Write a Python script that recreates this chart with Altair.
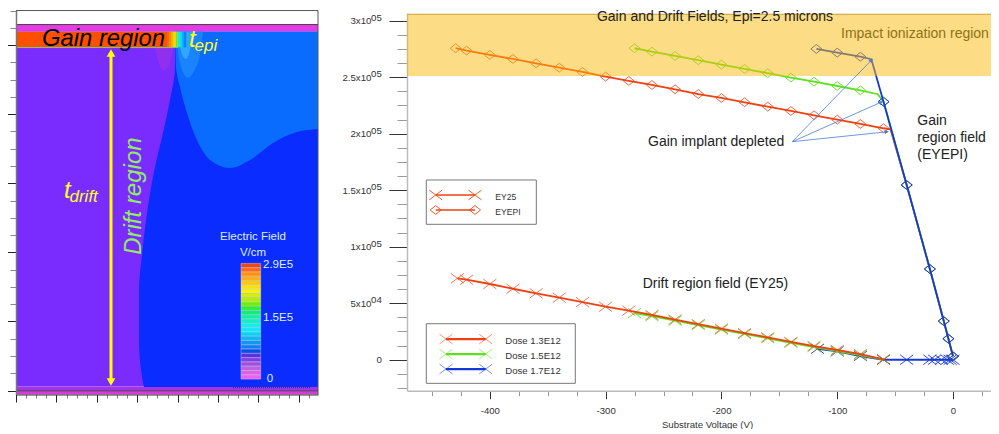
import math
import altair as alt
import pandas as pd

FONT = "Liberation Sans"
W, H = 983, 421

# ---------- right chart data: substrate voltage (V) vs field (V/cm) ----------
ey25_13_v = [-428, -420, -400, -380, -360, -340, -320, -300, -280, -260, -240, -220, -200, -180, -160, -140, -120, -100, -80, -60]
ey25_13_e = [72000, 70800, 67000, 62800, 58800, 54900, 51000, 46900, 43400, 39600, 35500, 31500, 27500, 23500, 19800, 15700, 12100, 8600, 5000, 400]
ey25_15_v = [-275, -260, -240, -220, -200, -180, -160, -140, -120, -100, -80, -60]
ey25_15_e = [41300, 38500, 34500, 30700, 26700, 22800, 19000, 15000, 11200, 7600, 4000, 200]
ey25_17_v = [-117, -100, -80, -60, -40, -20, -16, -10, -5, -2.5, 0]
ey25_17_e = [9700, 7400, 3300, 0, 0, 0, 0, 0, 0, 0, 0]

epi_13_v = [-429.5, -420, -400, -380, -360, -340, -320, -300, -280, -260, -240, -220, -200, -180, -160, -140, -120, -100, -80, -60, -54, -40, -20, -8, -4, 0]
epi_13_e = [275600, 273500, 269700, 266100, 262300, 258400, 254600, 250500, 246700, 243100, 239300, 235100, 231600, 227800, 223900, 220100, 216300, 212400, 208600, 204800, 203900, 154600, 80300, 34200, 18600, 3000]
epi_15_v = [-275, -260, -240, -220, -200, -180, -160, -140, -120, -100, -80, -65, -60, -40, -20, -8, -4, 0]
epi_15_e = [275600, 272600, 268800, 265000, 261100, 257300, 253500, 249600, 246000, 242200, 238400, 234900, 228300, 154600, 80300, 34200, 18600, 3000]
epi_17_v = [-118, -100, -80, -70.5, -60, -40, -20, -8, -4, 0]
epi_17_e = [275000, 271700, 268100, 265900, 228300, 154600, 80300, 34200, 18600, 3000]
# the bend without a marker
epi_15_no_marker = [-65]
epi_13_no_marker = [-54]
epi_17_no_marker = [-70.5]

y_ticks = [-25000 + 12500 * i for i in range(27)]
x_ticks = [-450 + 25 * i for i in range(20)]
y_labels = {0: "0", 50000: "5x10", 100000: "1x10", 150000: "1.5x10", 200000: "2x10", 250000: "2.5x10", 300000: "3x10"}
y_exps = {50000: "04", 100000: "05", 150000: "05", 200000: "05", 250000: "05", 300000: "05"}

RED, GREEN, BLUE = "#EE4010", "#5FE01E", "#1438D8"

# ---------- left chart data: field map regions (lateral position, depth) ----------
purple_edge_x = [157.4, 157.4, 152.5, 145.5, 137.6, 129.7, 124.8, 121.8, 121.8, 124.8, 126.7]
purple_edge_d = [2, 22.3, 55.7, 89.2, 123.6, 170.2, 211.8, 248.2, 298.9, 336.4, 346.5]
midblue_x = [157.9, 158.4, 162.4, 169.3, 179.2, 192.1, 211.9, 231.7, 254.5, 278.2, 299]
midblue_d = [2, 22.3, 42.6, 68.9, 96.3, 116.5, 124.6, 116.5, 99.3, 88.1, 85.1]
blob1_x = [137.6, 140.6, 145.5, 150.5, 155.4, 157.4]
blob1_d = [2.3, 15.2, 25.3, 23.3, 5, 2.3]
blob2_x = [158.5, 162, 170, 177, 182, 185]
blob2_d = [-13, 17, 33, 25, 10, -13]
blob3_x = [160, 163, 168, 172, 175]
blob3_d = [-13, 5, 14, 6, -13]
rainbow_edges = [149.5, 151.5, 153.5, 155.5, 157.5, 159, 160.5, 162.5, 164.5, 166.5, 168.5]
rainbow_colors = ["#FF6A00", "#FF8C00", "#FFB000", "#FFD800", "#D8F000", "#70F060", "#20F0C0", "#10D8F8", "#10A8FF", "#0880FF"]
colorbar_colors = ["#F04810", "#FF6A10", "#FF9010", "#FFB010", "#FFC800", "#FFE000", "#F5F500", "#D8F000", "#B0F000",
                   "#70F000", "#30F030", "#10F070", "#10F0A0", "#10F0C0", "#10F0E8", "#10E8F8", "#10D0F0", "#10B8F0",
                   "#1098F0", "#1080F0", "#0850E8", "#6030E0", "#8040E0", "#A050E0", "#C060E0", "#E060E0", "#F060F0"]

# ---------- scales ----------
LXS = alt.Scale(domain=[0, 299], range=[8, 310], nice=False)
LYS = alt.Scale(domain=[-35, 354], range=[2.5, 386.5], nice=False)
RXS = alt.Scale(domain=[-471.5, 39.7], range=[399, 991], nice=False)
RYS = alt.Scale(domain=[-27400, 305900], range=[382.7, 6], nice=False)

def lx(px): return (px - 16) / 1.01
def ly(py): return (py - 45) / 0.987
def rx(px): return (px - 953) / 1.158
def ry(py): return (359.7 - py) * 885

def LX(f="x", **k): return alt.X(f + ":Q", scale=LXS, axis=k.pop("axis", None), **k)
def LY(f="y", **k): return alt.Y(f + ":Q", scale=LYS, axis=k.pop("axis", None), **k)
def RX(f="x", **k): return alt.X(f + ":Q", scale=RXS, axis=k.pop("axis", None), **k)
def RY(f="y", **k): return alt.Y(f + ":Q", scale=RYS, axis=k.pop("axis", None), **k)
COL = alt.Color("c:N", scale=None, legend=None)

def text_layer(xs, ys, t, px, py, size, color, italic=False, align="left", angle=None, baseline="alphabetic", weight="normal"):
    kw = dict(font=FONT, fontSize=size, color=color, align=align, baseline=baseline, fontWeight=weight)
    if italic:
        kw["fontStyle"] = "italic"
    if angle is not None:
        kw["angle"] = angle
    if xs is LXS:
        d = pd.DataFrame({"x": [lx(px)], "y": [ly(py)], "t": [t]})
        return alt.Chart(d).mark_text(**kw).encode(x=LX(), y=LY(), text="t:N")
    d = pd.DataFrame({"x": [rx(px)], "y": [ry(py)], "t": [t]})
    return alt.Chart(d).mark_text(**kw).encode(x=RX(), y=RY(), text="t:N")

def ltext(*a, **k): return text_layer(LXS, LYS, *a, **k)
def rtext(*a, **k): return text_layer(RXS, RYS, *a, **k)

layers = []

# ---------- LEFT PANEL ----------
rects = [
    (0, 299, ly(24.5), ly(31.7), "#E63AE6"),
    (0, 299, ly(31.7), ly(47.3), "#0A6CFF"),
    (0, 150.5, ly(31.7), ly(47.3), "#FF5000"),
    (0, 299, ly(47.3), ly(386.3), "#7A2CFF"),
    (0, 299, ly(386.3), ly(390.7), "#A035E8"),
    (0, 299, ly(390.7), ly(394.5), "#D93AE0"),
]
lrect = pd.DataFrame(rects, columns=["x", "x2", "y", "y2", "c"])
left_x_axis = alt.Axis(
    orient="bottom", offset=-34.5, values=list(range(0, 300, 10)), labels=False, title=None, grid=False,
    domainColor="#333", domainWidth=1,
    tickSize={"condition": {"test": "datum.value % 40 === 0", "value": 7.5}, "value": 3.5},
    tickColor={"condition": {"test": "datum.value % 40 === 0", "value": "#222"}, "value": "#777"},
    zindex=1,
)
left_y_axis = alt.Axis(
    orient="left", offset=-8, values=[-35 + 17.5 * i for i in range(23)], labels=False, title=None, grid=False,
    domainColor="#777", domainWidth=1.5,
    tickSize={"condition": {"test": "datum.value % 70 === 0", "value": 11}, "value": 6},
    tickColor={"condition": {"test": "datum.value % 70 === 0", "value": "#222"}, "value": "#888"},
    zindex=1,
)
layers.append(alt.Chart(lrect).mark_rect().encode(
    x=LX(axis=left_x_axis), x2="x2:Q", y=LY(axis=left_y_axis), y2="y2:Q", color=COL))

deep = pd.DataFrame({"x": purple_edge_x, "x2": [299] * len(purple_edge_x), "y": purple_edge_d})
layers.append(alt.Chart(deep).mark_area(orient="horizontal", interpolate="monotone", color="#0A2CFF").encode(
    x=LX(), x2="x2:Q", y=LY()))

def larea(xs, ds, top, color):
    d = pd.DataFrame({"x": xs, "y": ds, "y2": [top] * len(xs)})
    return alt.Chart(d).mark_area(interpolate="monotone", color=color).encode(x=LX(), y=LY(), y2="y2:Q")

layers.append(larea(midblue_x, midblue_d, ly(31.7), "#0A6CFF"))
layers.append(larea(blob1_x, blob1_d, 2.3, "#9030EE"))
layers.append(larea(blob2_x, blob2_d, ly(31.7), "#1A84FF"))
layers.append(larea(blob3_x, blob3_d, ly(31.7), "#30A8FF"))

rb = pd.DataFrame({"x": rainbow_edges[:-1], "x2": rainbow_edges[1:], "y": [ly(31.7)] * 10, "y2": [ly(47.3)] * 10, "c": rainbow_colors})
layers.append(alt.Chart(rb).mark_rect().encode(x=LX(), x2="x2:Q", y=LY(), y2="y2:Q", color=COL))

def lrule(px0, py0, px1, py1, color, width, **k):
    d = pd.DataFrame({"x": [lx(px0)], "x2": [lx(px1)], "y": [ly(py0)], "y2": [ly(py1)]})
    return alt.Chart(d).mark_rule(color=color, strokeWidth=width, **k).encode(x=LX(), x2="x2:Q", y=LY(), y2="y2:Q")

layers.append(lrule(16, 47.5, 178, 47.5, "#7FC87F", 1))
layers.append(lrule(16, 24.5, 318, 24.5, "#444444", 1))
layers.append(lrule(16, 10.5, 318, 10.5, "#555555", 1))
layers.append(lrule(318, 10.5, 318, 394.5, "#555555", 1))
layers.append(lrule(16, 390.7, 318, 390.7, "#444444", 1))
layers.append(lrule(233, 387.5, 310, 387.5, "#333366", 1, strokeDash=[1, 1]))

# double arrow
layers.append(lrule(111, 52, 111, 383, "#FFFF00", 3))
arrow_tips = pd.DataFrame({"x": [lx(111), lx(111)], "y": [ly(53), ly(382)], "s": ["triangle-up", "triangle-down"]})
layers.append(alt.Chart(arrow_tips).mark_point(filled=True, size=75, opacity=1, color="#FFFF00").encode(
    x=LX(), y=LY(), shape=alt.Shape("s:N", scale=None, legend=None)))

layers.append(ltext("Gain region", 42, 46, 23.8, "#000000", italic=True))
layers.append(ltext("t", 189, 47, 24, "#FFFF20", italic=True))
layers.append(ltext("epi", 194.5, 51, 17, "#FFFF20", italic=True))
layers.append(ltext("t", 64, 198, 24, "#FFFF20", italic=True))
layers.append(ltext("drift", 69.5, 202, 17, "#FFFF20", italic=True))
layers.append(ltext("Drift region", 141, 254.7, 24, "#90EE60", italic=True, angle=270))

layers.append(ltext("Electric Field", 253, 240, 11.5, "#DDEEFF", align="center"))
layers.append(ltext("V/cm", 253, 256, 11.5, "#DDEEFF", align="center"))
n = len(colorbar_colors)
cb_top, cb_bot = 263.3, 379.0
cb = pd.DataFrame({
    "x": [lx(241)] * n, "x2": [lx(260.7)] * n,
    "y": [ly(cb_top + (cb_bot - cb_top) * i / n) for i in range(n)],
    "y2": [ly(cb_top + (cb_bot - cb_top) * (i + 1) / n) for i in range(n)],
    "c": colorbar_colors})
layers.append(alt.Chart(cb).mark_rect(stroke="#DDDDEE", strokeWidth=0.4).encode(
    x=LX(), x2="x2:Q", y=LY(), y2="y2:Q", color=COL))
layers.append(ltext("2.9E5", 263, 268, 11.5, "#DDEEFF"))
layers.append(ltext("1.5E5", 263, 321, 11.5, "#DDEEFF"))
layers.append(ltext("0", 270, 382, 11.5, "#DDEEFF", align="center"))

# ---------- RIGHT PANEL ----------
X_PATH = "M-1,-0.75L1,0.75M-1,0.75L1,-0.75"
D_PATH = "M-1,0L0,-0.8L1,0L0,0.8Z"

label_expr = "{" + ",".join(f"'{k}':'{v}'" for k, v in y_labels.items()) + "}[datum.value] || ''"
right_y_axis = alt.Axis(
    orient="left", offset=-399, values=y_ticks, title=None, grid=False, labelOverlap=False,
    labelExpr=label_expr, labelFont=FONT, labelFontSize=9.7, labelColor="#333333",
    labelPadding={"condition": {"test": "datum.value === 0", "value": 7.7}, "value": 18},
    domainColor="#BBBBBB", domainWidth=1.5,
    tickSize={"condition": {"test": "datum.value % 50000 === 0", "value": 18}, "value": 10},
    tickColor={"condition": {"test": "datum.value % 50000 === 0", "value": "#333333"}, "value": "#999999"},
)
right_x_axis = alt.Axis(
    orient="bottom", offset=-38.3, values=x_ticks, grid=False, labelOverlap=False, labelFlush=False,
    labelExpr="datum.value % 100 === 0 ? datum.value : ''", labelFont=FONT, labelFontSize=9.6, labelColor="#333333",
    labelPadding=7,
    title="Substrate Voltage (V)", titleFont=FONT, titleFontSize=9.6, titleFontWeight="normal", titleColor="#333333",
    titleX=699, titleY=36.3, titleBaseline="alphabetic", titleAlign="center",
    domainColor="#BBBBBB", domainWidth=1.5,
    tickSize={"condition": {"test": "datum.value % 100 === 0", "value": 8}, "value": 5},
    tickColor={"condition": {"test": "datum.value % 100 === 0", "value": "#333333"}, "value": "#999999"},
)

def series(v, e, color, path, size, marker_opacity, skip=()):
    d = pd.DataFrame({"x": v, "y": e})
    line = alt.Chart(d).mark_line(color=color, strokeWidth=1.8).encode(
        x=alt.X("x:Q", scale=RXS, axis=None, sort=None), y=RY())
    dm = d[~d["x"].isin(list(skip))]
    pts = alt.Chart(dm).mark_point(shape=path, filled=False, size=size, color=color, strokeWidth=1, opacity=marker_opacity).encode(
        x=RX(), y=RY())
    return [line, pts]

# axes layer
axis_d = pd.DataFrame({"x": [0], "y": [0]})
layers.append(alt.Chart(axis_d).mark_point(opacity=0).encode(x=RX(axis=right_x_axis), y=RY(axis=right_y_axis)))

layers += series(ey25_17_v, ey25_17_e, BLUE, X_PATH, 169, 0.9)
layers += series(ey25_15_v, ey25_15_e, GREEN, X_PATH, 169, 0.85)
layers += series(ey25_13_v, ey25_13_e, RED, X_PATH, 169, 0.7)
layers += series(epi_13_v, epi_13_e, RED, D_PATH, 121, 0.8, skip=epi_13_no_marker)
layers += series(epi_15_v, epi_15_e, GREEN, D_PATH, 121, 0.9, skip=epi_15_no_marker)
layers += series(epi_17_v, epi_17_e, BLUE, D_PATH, 121, 1, skip=epi_17_no_marker)

# exponents of the tick labels
exp_d = pd.DataFrame({"x": [rx(371)] * len(y_exps), "y": list(y_exps.keys()), "t": list(y_exps.values())})
layers.append(alt.Chart(exp_d).mark_text(font=FONT, fontSize=9.7, color="#333333", align="left", baseline="middle", dy=-3).encode(
    x=RX(), y=RY(), text="t:N"))

# impact ionization band
band = pd.DataFrame({"x": [rx(407)], "x2": [rx(999)], "y": [ry(14)], "y2": [ry(76)]})
layers.append(alt.Chart(band).mark_rect(color="#F9B90C", opacity=0.5).encode(x=RX(), x2="x2:Q", y=RY(), y2="y2:Q"))

def rrule(px0, py0, px1, py1, color, width):
    d = pd.DataFrame({"x": [rx(px0)], "x2": [rx(px1)], "y": [ry(py0)], "y2": [ry(py1)]})
    return alt.Chart(d).mark_rule(color=color, strokeWidth=width).encode(x=RX(), x2="x2:Q", y=RY(), y2="y2:Q")

layers.append(rrule(407, 14.3, 999, 14.3, "#C9A23A", 1))

# annotation arrows
origin = (792.3, 141.7)
targets = [(872.3, 59.3), (882.3, 101.7), (888, 131.7)]
for tx, ty in targets:
    layers.append(rrule(origin[0], origin[1], tx, ty, "#4A7CD8", 0.8))
ah = pd.DataFrame({
    "x": [rx(t[0] - 2 * math.sin(math.atan2(t[0] - origin[0], origin[1] - t[1]))) for t in targets],
    "y": [ry(t[1] + 2 * math.cos(math.atan2(t[0] - origin[0], origin[1] - t[1]))) for t in targets],
    "a": [math.degrees(math.atan2(t[0] - origin[0], origin[1] - t[1])) for t in targets]})
layers.append(alt.Chart(ah).mark_point(shape="triangle", filled=True, size=22, color="#4A7CD8", opacity=1).encode(
    x=RX(), y=RY(), angle=alt.Angle("a:Q", scale=None)))

# texts
layers.append(rtext("Gain and Drift Fields, Epi=2.5 microns", 715, 21, 14, "#222222", align="center"))
layers.append(rtext("Impact ionization region", 841, 38, 14, "#8F7218"))
layers.append(rtext("Gain implant depleted", 648, 146, 14, "#222222"))
layers.append(rtext("Gain", 917.3, 125.3, 14, "#222222"))
layers.append(rtext("region field", 917.3, 141.7, 14, "#222222"))
layers.append(rtext("(EYEPI)", 917.3, 158.7, 14, "#222222"))
layers.append(rtext("Drift region field (EY25)", 642.7, 288, 14, "#222222"))

# legends
def legend_box(px0, py0, px1, py1):
    d = pd.DataFrame({"x": [rx(px0)], "x2": [rx(px1)], "y": [ry(py0)], "y2": [ry(py1)]})
    return alt.Chart(d).mark_rect(fill="#FFFFFF", stroke="#777777", strokeWidth=1).encode(x=RX(), x2="x2:Q", y=RY(), y2="y2:Q")

def legend_entry(px0, px1, py, color, path, size, width, mop, label, tx, ty, tsize):
    out = [rrule(px0, py, px1, py, color, width)]
    d = pd.DataFrame({"x": [rx(px0), rx(px1)], "y": [ry(py)] * 2})
    out.append(alt.Chart(d).mark_point(shape=path, filled=False, size=size, color=color, strokeWidth=1, opacity=mop).encode(x=RX(), y=RY()))
    out.append(rtext(label, tx, ty, tsize, "#333333", baseline="middle"))
    return out

layers.append(legend_box(426.3, 180, 536.3, 224.3))
layers += legend_entry(435.7, 475, 195, RED, X_PATH, 169, 1.5, 0.85, "EY25", 495.3, 197, 8.6)
layers += legend_entry(435.7, 475, 210, RED, D_PATH, 121, 1.5, 0.85, "EYEPI", 495.3, 212.3, 8.6)
layers.append(legend_box(426.3, 323.7, 575.3, 383.3))
layers += legend_entry(446, 485.7, 339, RED, X_PATH, 169, 2.2, 0.55, "Dose 1.3E12", 505.3, 341, 9.6)
layers += legend_entry(446, 485.7, 354, GREEN, X_PATH, 169, 2.2, 0.55, "Dose 1.5E12", 505.3, 356, 9.6)
layers += legend_entry(446, 485.7, 369, BLUE, X_PATH, 169, 2.2, 0.55, "Dose 1.7E12", 505.3, 371, 9.6)

chart = alt.layer(*layers).resolve_scale(x="independent", y="independent").properties(
    width=W, height=H, padding=0, autosize=alt.AutoSizeParams(type="none"),
).configure_view(stroke=None)

chart.save("out.html", embed_options={"renderer": "svg", "actions": False})
